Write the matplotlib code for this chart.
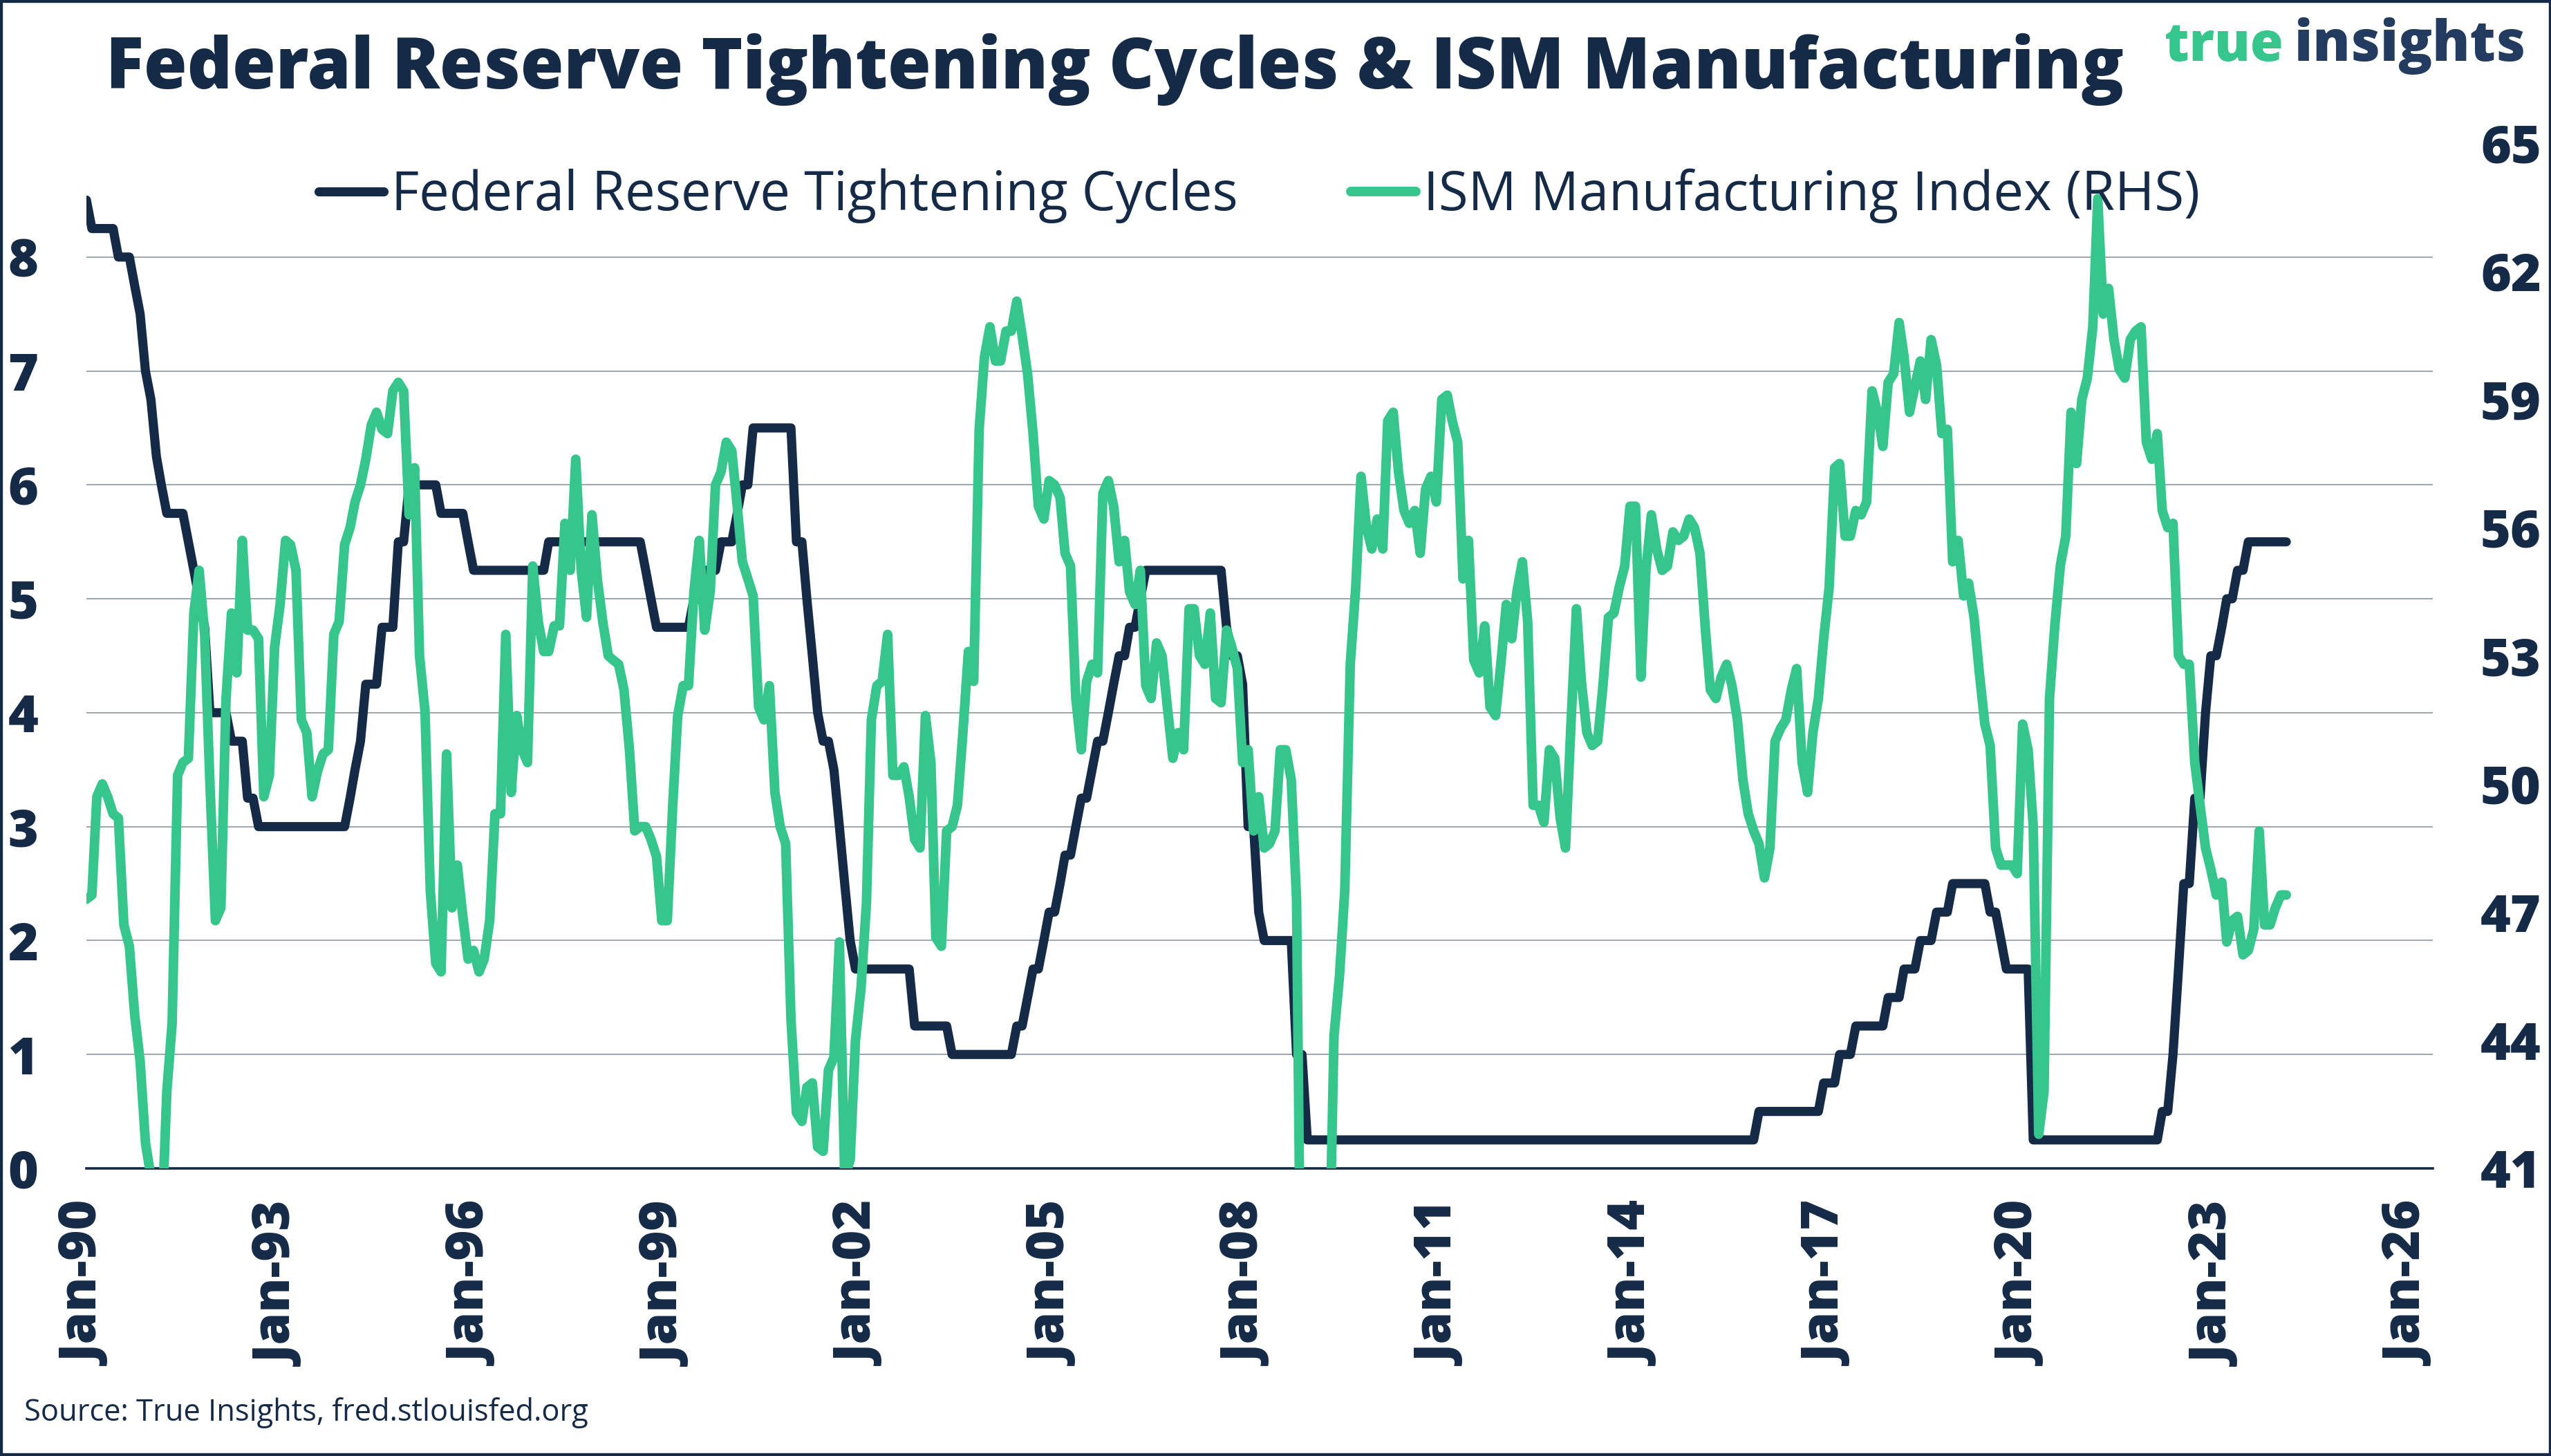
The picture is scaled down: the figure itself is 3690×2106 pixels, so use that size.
import numpy as np
import pandas as pd
import matplotlib
matplotlib.use('Agg')
import matplotlib.pyplot as plt
import matplotlib.dates as mdates
import matplotlib.transforms as mtransforms
from matplotlib.patches import Rectangle

NAVY = '#142A47'
GREEN = '#36C68B'
GRID = '#8C96A1'

# monthly values, Jan 1990 onwards
fed_rate = [
    8.5, 8.25, 8.25, 8.25, 8.25, 8.25, 8.0, 8.0, 8.0, 7.75, 7.5, 7.0,         # 1990
    6.75, 6.25, 6.0, 5.75, 5.75, 5.75, 5.75, 5.5, 5.25, 5.0, 4.75, 4.0,       # 1991
    4.0, 4.0, 4.0, 3.75, 3.75, 3.75, 3.25, 3.25, 3.0, 3.0, 3.0, 3.0,          # 1992
    3.0, 3.0, 3.0, 3.0, 3.0, 3.0, 3.0, 3.0, 3.0, 3.0, 3.0, 3.0,               # 1993
    3.0, 3.25, 3.5, 3.75, 4.25, 4.25, 4.25, 4.75, 4.75, 4.75, 5.5, 5.5,       # 1994
    6.0, 6.0, 6.0, 6.0, 6.0, 6.0, 5.75, 5.75, 5.75, 5.75, 5.75, 5.5,          # 1995
    5.25, 5.25, 5.25, 5.25, 5.25, 5.25, 5.25, 5.25, 5.25, 5.25, 5.25, 5.25,   # 1996
    5.25, 5.25, 5.5, 5.5, 5.5, 5.5, 5.5, 5.5, 5.5, 5.5, 5.5, 5.5,             # 1997
    5.5, 5.5, 5.5, 5.5, 5.5, 5.5, 5.5, 5.5, 5.25, 5.0, 4.75, 4.75,            # 1998
    4.75, 4.75, 4.75, 4.75, 4.75, 5.0, 5.0, 5.25, 5.25, 5.25, 5.5, 5.5,       # 1999
    5.5, 5.75, 6.0, 6.0, 6.5, 6.5, 6.5, 6.5, 6.5, 6.5, 6.5, 6.5,              # 2000
    5.5, 5.5, 5.0, 4.5, 4.0, 3.75, 3.75, 3.5, 3.0, 2.5, 2.0, 1.75,            # 2001
    1.75, 1.75, 1.75, 1.75, 1.75, 1.75, 1.75, 1.75, 1.75, 1.75, 1.25, 1.25,   # 2002
    1.25, 1.25, 1.25, 1.25, 1.25, 1.0, 1.0, 1.0, 1.0, 1.0, 1.0, 1.0,          # 2003
    1.0, 1.0, 1.0, 1.0, 1.0, 1.25, 1.25, 1.5, 1.75, 1.75, 2.0, 2.25,          # 2004
    2.25, 2.5, 2.75, 2.75, 3.0, 3.25, 3.25, 3.5, 3.75, 3.75, 4.0, 4.25,       # 2005
    4.5, 4.5, 4.75, 4.75, 5.0, 5.25, 5.25, 5.25, 5.25, 5.25, 5.25, 5.25,      # 2006
    5.25, 5.25, 5.25, 5.25, 5.25, 5.25, 5.25, 5.25, 4.75, 4.5, 4.5, 4.25,     # 2007
    3.0, 3.0, 2.25, 2.0, 2.0, 2.0, 2.0, 2.0, 2.0, 1.0, 1.0, 0.25,             # 2008
    0.25, 0.25, 0.25, 0.25, 0.25, 0.25, 0.25, 0.25, 0.25, 0.25, 0.25, 0.25,   # 2009
    0.25, 0.25, 0.25, 0.25, 0.25, 0.25, 0.25, 0.25, 0.25, 0.25, 0.25, 0.25,   # 2010
    0.25, 0.25, 0.25, 0.25, 0.25, 0.25, 0.25, 0.25, 0.25, 0.25, 0.25, 0.25,   # 2011
    0.25, 0.25, 0.25, 0.25, 0.25, 0.25, 0.25, 0.25, 0.25, 0.25, 0.25, 0.25,   # 2012
    0.25, 0.25, 0.25, 0.25, 0.25, 0.25, 0.25, 0.25, 0.25, 0.25, 0.25, 0.25,   # 2013
    0.25, 0.25, 0.25, 0.25, 0.25, 0.25, 0.25, 0.25, 0.25, 0.25, 0.25, 0.25,   # 2014
    0.25, 0.25, 0.25, 0.25, 0.25, 0.25, 0.25, 0.25, 0.25, 0.25, 0.25, 0.5,    # 2015
    0.5, 0.5, 0.5, 0.5, 0.5, 0.5, 0.5, 0.5, 0.5, 0.5, 0.5, 0.75,              # 2016
    0.75, 0.75, 1.0, 1.0, 1.0, 1.25, 1.25, 1.25, 1.25, 1.25, 1.25, 1.5,       # 2017
    1.5, 1.5, 1.75, 1.75, 1.75, 2.0, 2.0, 2.0, 2.25, 2.25, 2.25, 2.5,         # 2018
    2.5, 2.5, 2.5, 2.5, 2.5, 2.5, 2.25, 2.25, 2.0, 1.75, 1.75, 1.75,          # 2019
    1.75, 1.75, 0.25, 0.25, 0.25, 0.25, 0.25, 0.25, 0.25, 0.25, 0.25, 0.25,   # 2020
    0.25, 0.25, 0.25, 0.25, 0.25, 0.25, 0.25, 0.25, 0.25, 0.25, 0.25, 0.25,   # 2021
    0.25, 0.25, 0.5, 0.5, 1.0, 1.75, 2.5, 2.5, 3.25, 3.25, 4.0, 4.5,          # 2022
    4.5, 4.75, 5.0, 5.0, 5.25, 5.25, 5.5, 5.5, 5.5, 5.5, 5.5, 5.5,            # 2023
    5.5, 5.5,                                                                 # 2024
]

ism_index = [
    47.3, 47.4, 49.7, 50.0, 49.7, 49.3, 49.2, 46.7, 46.2, 44.6, 43.5, 41.6,   # 1990
    40.8, 39.2, 39.4, 42.8, 44.4, 50.2, 50.5, 50.6, 54.0, 55.0, 53.5, 50.0,   # 1991
    46.8, 47.1, 52.0, 54.0, 52.6, 55.7, 53.6, 53.6, 53.4, 49.7, 50.2, 53.2,   # 1992
    54.2, 55.7, 55.6, 55.0, 51.5, 51.2, 49.7, 50.3, 50.7, 50.8, 53.5, 53.8,   # 1993
    55.6, 56.0, 56.6, 57.0, 57.6, 58.4, 58.7, 58.3, 58.2, 59.2, 59.4, 59.2,   # 1994
    56.3, 57.4, 53.0, 51.7, 47.5, 45.8, 45.6, 50.7, 47.1, 48.1, 46.9, 45.9,   # 1995
    46.1, 45.6, 45.9, 46.8, 49.3, 49.3, 53.5, 49.8, 51.6, 50.8, 50.5, 55.1,   # 1996
    53.8, 53.1, 53.1, 53.7, 53.7, 56.1, 55.0, 57.6, 55.0, 53.9, 56.3, 54.8,   # 1997
    53.8, 53.0, 52.9, 52.8, 52.2, 50.8, 48.9, 49.0, 49.0, 48.7, 48.3, 46.8,   # 1998
    46.8, 49.5, 51.6, 52.3, 52.3, 54.5, 55.7, 53.6, 54.5, 57.0, 57.3, 58.0,   # 1999
    57.8, 56.5, 55.2, 54.8, 54.4, 51.8, 51.5, 52.3, 49.8, 49.0, 48.6, 44.5,   # 2000
    42.3, 42.1, 42.9, 43.0, 41.5, 41.4, 43.3, 43.6, 46.3, 40.8, 41.2, 44.0,   # 2001
    45.2, 47.2, 51.5, 52.3, 52.4, 53.5, 50.2, 50.2, 50.4, 49.7, 48.7, 48.5,   # 2002
    51.6, 50.5, 46.4, 46.2, 48.9, 49.0, 49.5, 51.2, 53.1, 52.4, 58.3, 60.0,   # 2003
    60.7, 59.9, 59.9, 60.6, 60.6, 61.3, 60.5, 59.6, 58.2, 56.5, 56.2, 57.1,   # 2004
    57.0, 56.7, 55.4, 55.1, 52.0, 50.8, 52.4, 52.8, 52.6, 56.8, 57.1, 56.5,   # 2005
    55.2, 55.7, 54.5, 54.2, 55.0, 52.3, 52.0, 53.3, 53.0, 51.8, 50.6, 51.2,   # 2006
    50.8, 54.1, 54.1, 53.0, 52.8, 54.0, 52.0, 51.9, 53.6, 53.2, 52.7, 50.5,   # 2007
    50.8, 48.9, 49.7, 48.5, 48.6, 48.9, 50.8, 50.8, 50.1, 47.3, 35.0, 36.2,   # 2008
    33.1, 34.0, 35.8, 37.9, 44.1, 45.5, 47.5, 52.8, 54.6, 57.2, 56.0, 55.5,   # 2009
    56.2, 55.5, 58.5, 58.7, 57.3, 56.4, 56.1, 56.4, 55.4, 56.9, 57.2, 56.6,   # 2010
    59.0, 59.1, 58.5, 58.0, 54.8, 55.7, 52.9, 52.6, 53.7, 51.8, 51.6, 52.8,   # 2011
    54.2, 53.4, 54.5, 55.2, 53.8, 49.5, 49.5, 49.1, 50.8, 50.6, 49.2, 48.5,   # 2012
    51.4, 54.1, 52.4, 51.2, 50.9, 51.0, 52.3, 53.9, 54.0, 54.6, 55.1, 56.5,   # 2013
    56.5, 52.5, 55.0, 56.3, 55.5, 55.0, 55.1, 55.9, 55.7, 55.8, 56.2, 56.0,   # 2014
    55.4, 53.6, 52.2, 52.0, 52.5, 52.8, 52.3, 51.5, 50.1, 49.3, 48.9, 48.6,   # 2015
    47.8, 48.5, 51.0, 51.3, 51.5, 52.2, 52.7, 50.5, 49.8, 51.2, 52.0, 53.4,   # 2016
    54.6, 57.4, 57.5, 55.8, 55.8, 56.4, 56.3, 56.6, 59.2, 58.7, 57.9, 59.4,   # 2017
    59.6, 60.8, 60.0, 58.7, 59.3, 59.9, 59.0, 60.4, 59.8, 58.2, 58.3, 55.2,   # 2018
    55.7, 54.4, 54.7, 53.9, 52.6, 51.4, 50.9, 48.5, 48.1, 48.1, 48.1, 47.9,   # 2019
    51.4, 50.8, 49.0, 41.8, 42.8, 52.0, 53.7, 55.1, 55.8, 58.7, 57.5, 59.0,   # 2020
    59.5, 60.7, 63.7, 61.0, 61.6, 60.4, 59.7, 59.5, 60.4, 60.6, 60.7, 58.0,   # 2021
    57.6, 58.2, 56.4, 56.0, 56.1, 53.0, 52.8, 52.8, 50.5, 49.5, 48.5, 48.0,   # 2022
    47.4, 47.7, 46.3, 46.8, 46.9, 46.0, 46.1, 46.6, 48.9, 46.7, 46.7, 47.1,   # 2023
    47.4, 47.4,                                                               # 2024
]

months = pd.date_range('1990-01-01', periods=len(ism_index), freq='MS')

left_ticks = [0, 1, 2, 3, 4, 5, 6, 7, 8]
right_ticks = [41, 44, 47, 50, 53, 56, 59, 62, 65]
tick_years = [1990, 1993, 1996, 1999, 2002, 2005, 2008, 2011, 2014, 2017, 2020, 2023, 2026]

title = 'Federal Reserve Tightening Cycles & ISM Manufacturing'
source = 'Source: True Insights, fred.stlouisfed.org'

HEAVY = ['Open Sans', 'DejaVu Sans']
plt.rcParams['font.family'] = ['Open Sans', 'DejaVu Sans']

W, H = 3691, 2106
fig = plt.figure(figsize=(W / 100, H / 100), dpi=100)
fig.patch.set_facecolor('white')

ax = fig.add_axes([125 / W, 1 - 1690 / H, (3519 - 125) / W, (1690 - 207) / H])
ax2 = ax.twinx()

l1, = ax.plot(months, fed_rate, color=NAVY, lw=9.5, solid_joinstyle='round',
              solid_capstyle='round', label='Federal Reserve Tightening Cycles')
l2, = ax2.plot(months, ism_index, color=GREEN, lw=10, solid_joinstyle='round',
               solid_capstyle='round', label='ISM Manufacturing Index (RHS)')

ax.set_ylim(0, 9)
ax2.set_ylim(41, 65)
ax.set_yticks(left_ticks)
ax2.set_yticks(right_ticks)
ax.set_xlim(pd.Timestamp('1990-01-01'), pd.Timestamp('2026-05-10'))
ax.set_xticks([pd.Timestamp(f'{y}-01-01') for y in tick_years])
ax.xaxis.set_major_formatter(mdates.DateFormatter('%b-%y'))

for a in (ax, ax2):
    for s in ('left', 'right', 'top', 'bottom'):
        a.spines[s].set_visible(False)
ax.spines['bottom'].set_visible(True)
ax.spines['bottom'].set_color(NAVY)
ax.spines['bottom'].set_linewidth(2.6)

ax.grid(axis='y', color=GRID, lw=1.2)
ax.set_axisbelow(True)
ax.yaxis.get_gridlines()[0].set_visible(False)

ax.tick_params(axis='y', length=0, pad=50, labelcolor=NAVY)
ax.tick_params(axis='x', length=0, pad=36, labelcolor=NAVY)
ax2.tick_params(axis='y', length=0, labelright=False)

for lab in ax.get_yticklabels() + ax.get_xticklabels():
    lab.set_fontfamily(HEAVY)
    lab.set_fontweight('heavy')
    lab.set_fontsize(54)
for lab in ax.get_xticklabels():
    lab.set_rotation(90)
    lab.set_va('top')
    lab.set_ha('center')

# right-hand scale labels, left-aligned ~68 px clear of the plot edge
rtrans = mtransforms.blended_transform_factory(fig.transFigure, ax2.transData)
for v in right_ticks:
    ax2.text(3588 / W, v, str(v), transform=rtrans, color=NAVY, fontsize=54,
             fontweight='heavy', family=HEAVY, ha='left', va='center_baseline',
             clip_on=False)

leg = ax2.legend(handles=[l1, l2], loc='center', bbox_to_anchor=(1822 / W, 1 - 283 / H),
                 bbox_transform=fig.transFigure, ncol=2, frameon=False,
                 prop=dict(family=['Open Sans', 'DejaVu Sans'], size=56),
                 handlelength=1.2, handletextpad=0.15, columnspacing=2.1,
                 labelcolor=NAVY)

t_title = fig.text(153 / W, 1 - 128 / H, title, color=NAVY, fontsize=70, fontweight='heavy',
                   family=HEAVY, ha='left', va='baseline')
t_true = fig.text(3131 / W, 1 - 88 / H, 'true', color=GREEN, fontsize=62, fontweight='heavy',
                  family=HEAVY, ha='left', va='baseline')
t_ins = fig.text(3319 / W, 1 - 88 / H, 'insights', color='#223B5E', fontsize=62,
                 fontweight='heavy', family=HEAVY, ha='left', va='baseline')
t_src = fig.text(35 / W, 1 - 2055 / H, source, color=NAVY, fontsize=28, ha='left',
                 va='baseline')

# size the header / footer texts to the widths they take in the original
renderer = fig.canvas.get_renderer()
for txt, width in ((t_title, 2919), (t_src, 817), (t_true, 172), (t_ins, 334)):
    w = txt.get_window_extent(renderer).width
    txt.set_fontsize(txt.get_fontsize() * width / w)

fig.patches.append(Rectangle((0, 0), 1, 1, transform=fig.transFigure, fill=False,
                             edgecolor=NAVY, lw=6, clip_on=False))

fig.savefig('out.png', dpi=100, facecolor='white')
